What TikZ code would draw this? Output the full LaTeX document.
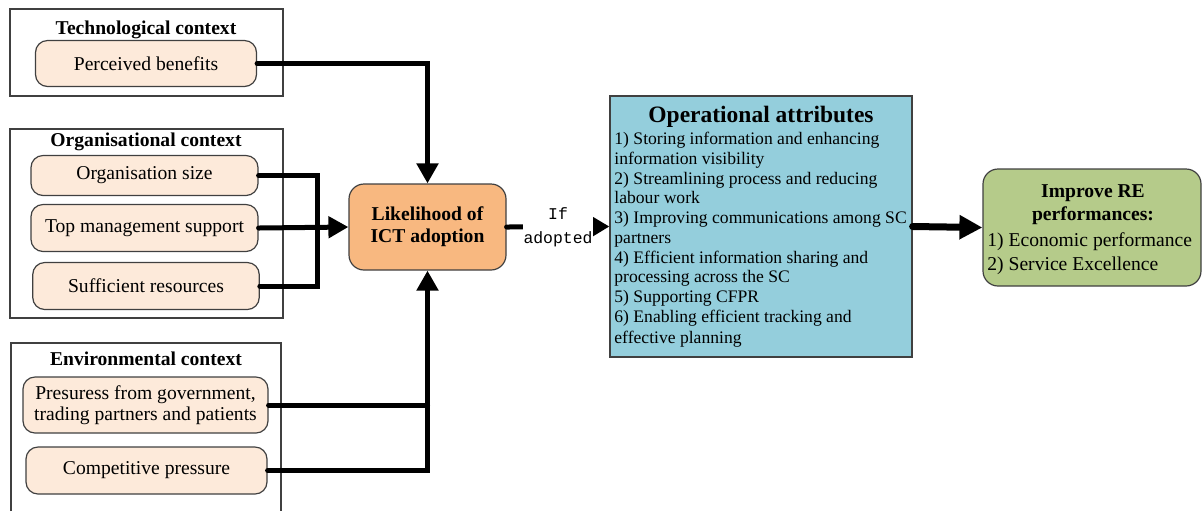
\documentclass[tikz,border=0pt]{standalone}
\usepackage{fontspec}
\setmainfont{Liberation Serif}
\setmonofont{Liberation Mono}
\usetikzlibrary{arrows.meta}
\definecolor{peach}{HTML}{FDEADA}
\definecolor{orangefill}{HTML}{F8B880}
\definecolor{bluefill}{HTML}{94CEDC}
\definecolor{greenfill}{HTML}{B5CB8A}
\definecolor{edgegray}{HTML}{404040}
\begin{document}
\begin{tikzpicture}[x=0.5pt,y=-0.5pt,
  ctxbox/.style={draw=edgegray, line width=0.6pt},
  ctxtitle/.style={font=\fontsize{9.8}{11}\selectfont\bfseries, inner sep=0pt},
  factor/.style={draw=edgegray, line width=0.6pt, fill=peach, rounded corners=6pt,
    align=center, inner sep=0pt, font=\fontsize{9.8}{10.5}\selectfont},
  link/.style={line width=2.5pt, line cap=round},
  conn/.style={link, -{Triangle[length=10pt,width=10.5pt]}},
]
\useasboundingbox (0,0) rectangle (1203,511);

% context frames
\draw[ctxbox] (10,9) rectangle (283,96);
\draw[ctxbox] (10,129) rectangle (283,318);
\draw[ctxbox] (11,511) -- (11,343) -- (281,343) -- (281,511);

\node[ctxtitle] (ttech) at (146,30) {Technological context};
\node[ctxtitle] (torg) at (146,142) {Organisational context};
\node[ctxtitle] (tenv) at (146,359) {Environmental context};

% factor nodes
\node[factor, minimum width=110.5pt, minimum height=23pt] (perc) at (146,63.5) {Perceived benefits};
\node[factor, minimum width=113.5pt, minimum height=20pt] (orgsize) at (144.5,175.5) {Organisation size};
\node[factor, minimum width=113.5pt, minimum height=23.5pt] (topm) at (144.5,228) {Top management support};
\node[factor, minimum width=113.25pt, minimum height=23.5pt] (suff) at (146,286) {Sufficient resources};
\node[factor, minimum width=122.5pt, minimum height=28pt] (pres) at (145.5,405) {Presuress from government,\\trading partners and patients};
\node[factor, minimum width=120.5pt, minimum height=23.5pt] (comp) at (146.5,470.5) {Competitive pressure};

% likelihood
\node[draw=edgegray, line width=0.6pt, fill=orangefill, rounded corners=7.5pt,
  minimum width=78.5pt, minimum height=43pt, inner sep=0pt, align=center,
  font=\fontsize{9.8}{11}\selectfont\bfseries] (lik) at (427.5,227) {Likelihood of\\ICT adoption};

% operational attributes
\node[draw=edgegray, line width=0.6pt, fill=bluefill, minimum width=151pt,
  minimum height=130.5pt, inner sep=0pt] (op) at (761,226.5) {};
\node[inner sep=0pt, font=\fontsize{11.75}{14}\selectfont\bfseries] (optitle) at (761,117) {Operational attributes};
\node[anchor=north west, inner sep=0pt, align=left, font=\fontsize{8.8}{9.85}\selectfont] (oplist) at (614,132)
{1) Storing information and enhancing\\
information visibility\\
2) Streamlining process and reducing\\
labour work\\
3) Improving communications among SC\\
partners\\
4) Efficient information sharing and\\
processing across the SC\\
5) Supporting CFPR\\
6) Enabling efficient tracking and\\[1pt]
effective planning};

% improve
\node[draw=edgegray, line width=0.6pt, fill=greenfill, rounded corners=7.5pt,
  minimum width=109pt, minimum height=58.5pt, inner sep=0pt] (imp) at (1092,227.5) {};
\node[inner sep=0pt, align=center, font=\fontsize{9.8}{11.5}\selectfont\bfseries] (imptitle) at (1093,205) {Improve RE\\performances:};
\node[anchor=north west, inner sep=0pt, align=left, font=\fontsize{9.8}{12}\selectfont] (implist) at (987,232)
{1) Economic performance\\2) Service Excellence};

% connectors
\draw[conn] (perc.east) -| (lik.north);
\coordinate (bx) at (317,228);
\draw[link] (orgsize.east) -- (orgsize.east -| bx) -- (suff.east -| bx) -- (suff.east);
\draw[conn] (topm.east) -- (lik.west);
\draw[link] (pres.east) -- (pres.east -| lik.south);
\draw[conn] (comp.east) -| (lik.south);
\draw[link, -{Triangle[length=9pt,width=10pt]}] (lik.east) -- node[fill=white, inner xsep=0.5pt, inner ysep=1pt, align=center,
  font=\fontsize{8.2}{12}\selectfont\ttfamily] (ifad) {If\\adopted} (op.west);
\draw[link, line width=3.5pt, -{Triangle[length=11.5pt,width=11.5pt]}] (op.east) -- (imp.west);
\end{tikzpicture}
\end{document}
